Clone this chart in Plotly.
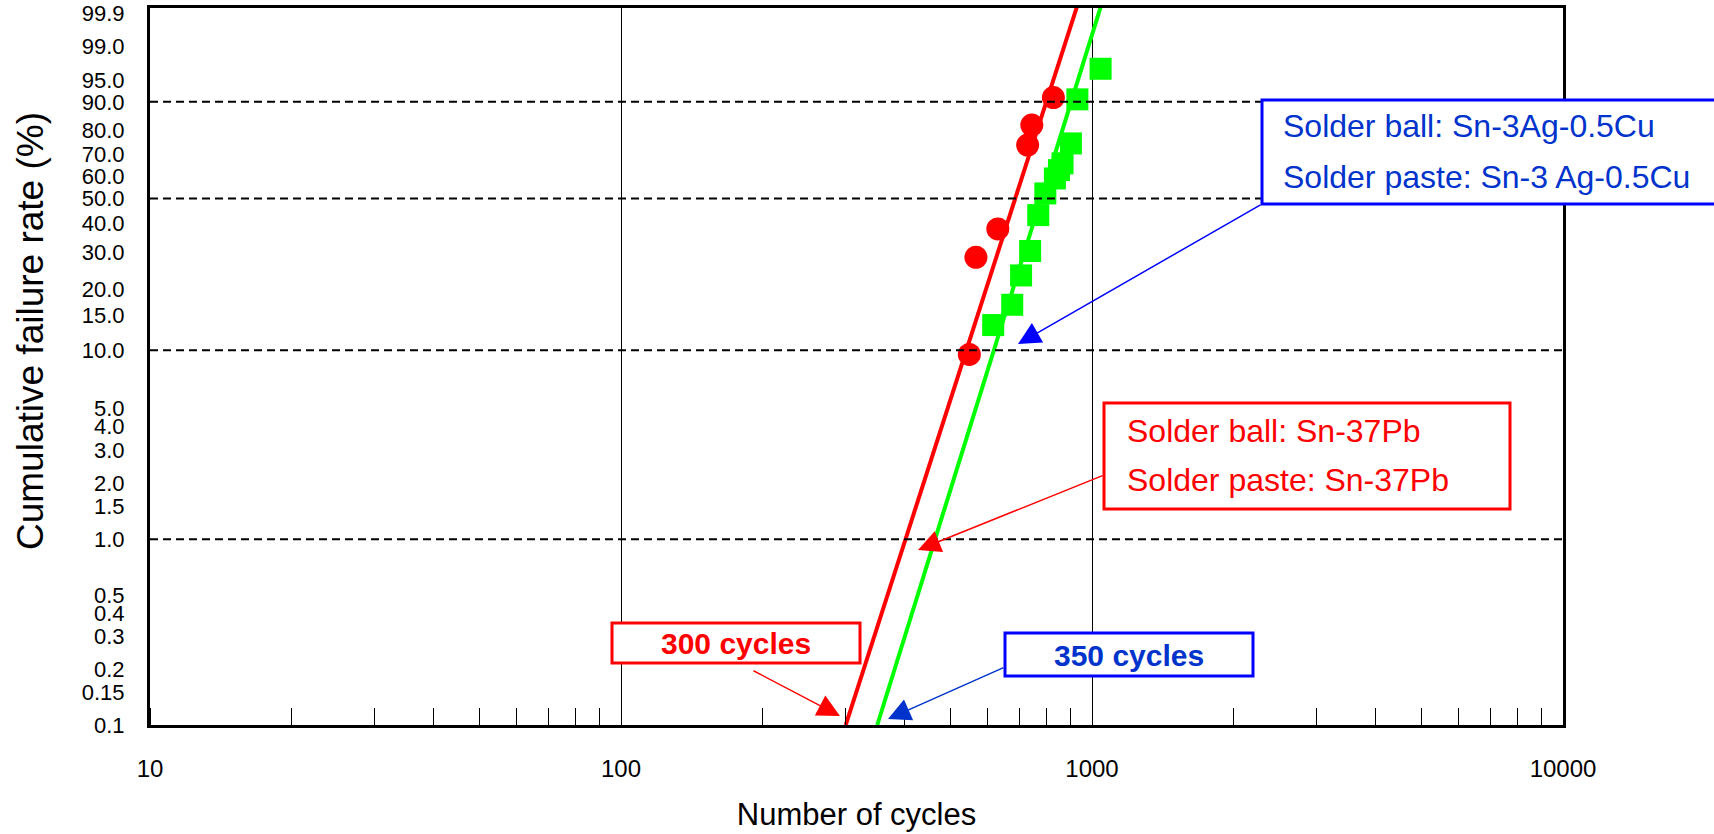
import numpy as np
import plotly.graph_objects as go

# ── Data ──────────────────────────────────────────────────────────────────────
# Sn-37Pb (red circles)
pb_cycles = [549, 567, 631, 730, 745, 828]
pb_rate = [9.5, 28.4, 37.8, 74.0, 82.2, 91.2]

# Sn-3Ag-0.5Cu (green squares)
sac_cycles = [617, 677, 707, 739, 769, 796, 834, 851, 866, 902, 931, 1043]
sac_rate = [13.4, 16.9, 23.4, 30.3, 43.1, 52.2, 58.9, 62.7, 65.8, 74.7, 90.7, 96.9]

# Weibull fit lines (end points)
pb_fit_cycles = [300, 934]
pb_fit_rate = [0.1, 99.96]
sac_fit_cycles = [350, 1049]
sac_fit_rate = [0.1, 99.96]

x_tick_vals = [10, 100, 1000, 10000]
y_tick_rates = [0.1, 0.15, 0.2, 0.3, 0.4, 0.5, 1.0, 1.5, 2.0, 3.0, 4.0, 5.0,
                10.0, 15.0, 20.0, 30.0, 40.0, 50.0, 60.0, 70.0, 80.0, 90.0,
                95.0, 99.0, 99.9]
y_tick_text = ["0.1", "0.15", "0.2", "0.3", "0.4", "0.5", "1.0", "1.5", "2.0",
               "3.0", "4.0", "5.0", "10.0", "15.0", "20.0", "30.0", "40.0",
               "50.0", "60.0", "70.0", "80.0", "90.0", "95.0", "99.0", "99.9"]
grid_rates = [1.0, 10.0, 50.0, 90.0]

# ── Style ─────────────────────────────────────────────────────────────────────
RED = "#FF0000"
GREEN = "#00FF00"
BLUE = "#0000FF"
DARK_BLUE = "#0033CC"
FONT = "Liberation Sans, Arial, sans-serif"

# plot area in pixels (figure is 1714 x 834)
PLOT_L, PLOT_T, PLOT_W, PLOT_H = 150, 8, 1413, 717


def weibull(rate_pct):
    """Cumulative failure rate (%) -> Weibull probability scale ln(-ln(1-F))."""
    p = np.asarray(rate_pct, dtype=float) / 100.0
    return np.log(-np.log(1.0 - p))


def paper(px, py):
    """Pixel position in the figure -> paper coordinates."""
    return (px - PLOT_L) / PLOT_W, (PLOT_T + PLOT_H - py) / PLOT_H


fig = go.Figure()

# ── Fit lines ─────────────────────────────────────────────────────────────────
fig.add_trace(go.Scatter(
    x=pb_fit_cycles, y=weibull(pb_fit_rate), mode="lines",
    line=dict(color=RED, width=4), hoverinfo="skip", showlegend=False,
))
fig.add_trace(go.Scatter(
    x=sac_fit_cycles, y=weibull(sac_fit_rate), mode="lines",
    line=dict(color=GREEN, width=4), hoverinfo="skip", showlegend=False,
))

# ── Measured points ───────────────────────────────────────────────────────────
fig.add_trace(go.Scatter(
    x=pb_cycles, y=weibull(pb_rate), mode="markers",
    marker=dict(symbol="circle", size=23, color=RED, line=dict(width=0)),
    name="Sn-37Pb", showlegend=False,
))
fig.add_trace(go.Scatter(
    x=sac_cycles, y=weibull(sac_rate), mode="markers",
    marker=dict(symbol="square", size=22, color=GREEN, line=dict(width=0)),
    name="Sn-3Ag-0.5Cu", showlegend=False,
))

# ── Dashed reference lines ────────────────────────────────────────────────────
for r in grid_rates:
    fig.add_hline(y=float(weibull(r)), line_dash="8px,5px", line_color="black",
                  line_width=2)

# ── Label boxes ───────────────────────────────────────────────────────────────
def add_box(px0, py0, px1, py1, color):
    x0, y1 = paper(px0, py0)
    x1, y0 = paper(px1, py1)
    fig.add_shape(type="rect", xref="paper", yref="paper",
                  x0=x0, y0=y0, x1=x1, y1=y1,
                  line=dict(color=color, width=3), fillcolor="white")


def add_text(px, py, text, color, size=32, bold=False, anchor="left", angle=0):
    x, y = paper(px, py)
    if bold:
        text = f"<b>{text}</b>"
    fig.add_annotation(xref="paper", yref="paper", x=x, y=y, text=text,
                       showarrow=False, xanchor=anchor, yanchor="middle",
                       textangle=angle,
                       font=dict(size=size, color=color, family=FONT))


def add_arrow(tail, tip, color):
    x, y = paper(*tip)
    fig.add_annotation(xref="paper", yref="paper", x=x, y=y, text="",
                       axref="pixel", ayref="pixel",
                       ax=tail[0] - tip[0], ay=tail[1] - tip[1],
                       showarrow=True, arrowhead=2, arrowsize=3,
                       arrowwidth=1.5, arrowcolor=color)


# Sn-3Ag-0.5Cu legend box (runs off the right edge)
add_box(1262, 100, 1740, 204, BLUE)
add_text(1281, 126, "Solder ball: Sn-3Ag-0.5Cu", DARK_BLUE)
add_text(1281, 177, "Solder paste: Sn-3 Ag-0.5Cu", DARK_BLUE)
add_arrow((1262, 204), (1018, 344), BLUE)

# Sn-37Pb legend box
add_box(1104, 403, 1510, 509, RED)
add_text(1125, 431, "Solder ball: Sn-37Pb", RED)
add_text(1125, 480, "Solder paste: Sn-37Pb", RED)
add_arrow((1104, 475), (918, 550), RED)

# B0.1 life boxes
add_box(612, 623, 860, 663, RED)
add_text(736, 643, "300 cycles", RED, size=30, bold=True, anchor="center")
add_arrow((752, 670), (840, 716), RED)

add_box(1005, 633, 1253, 676, BLUE)
add_text(1129, 655, "350 cycles", DARK_BLUE, size=30, bold=True, anchor="center")
add_arrow((1005, 667), (888, 719), DARK_BLUE)

# y-axis title, placed like the reference (above the axis centre)
add_text(30, 331, "Cumulative failure rate (%)", "black", size=37,
         anchor="center", angle=-90)

# ── Layout ────────────────────────────────────────────────────────────────────
fig.update_layout(
    width=1714,
    height=834,
    margin=dict(l=PLOT_L, r=1714 - PLOT_L - PLOT_W, t=PLOT_T,
                b=834 - PLOT_T - PLOT_H, autoexpand=False),
    paper_bgcolor="white",
    plot_bgcolor="white",
    font=dict(family=FONT, color="black", size=24),
    showlegend=False,
    xaxis=dict(
        type="log",
        range=[1, 4],
        automargin=False,
        tickvals=x_tick_vals,
        ticktext=[str(v) for v in x_tick_vals],
        ticks="",
        ticklabelstandoff=20,
        tickfont=dict(size=24),
        showgrid=True, gridcolor="black", gridwidth=1,
        zeroline=False,
        showline=True, linecolor="black", linewidth=3, mirror=True,
        minor=dict(ticks="inside", ticklen=17, tickwidth=1,
                   tickcolor="black", dtick="D1", showgrid=False),
        title=dict(text="Number of cycles", font=dict(size=31), standoff=23),
    ),
    yaxis=dict(
        range=[float(weibull(0.1)), 2.0],
        automargin=False,
        tickvals=weibull(y_tick_rates),
        ticktext=y_tick_text,
        ticks="",
        ticklabelstandoff=18,
        tickfont=dict(size=22),
        showgrid=False,
        zeroline=False,
        showline=True, linecolor="black", linewidth=3, mirror=True,
    ),
)

# drop the default 8px page margin so the figure fills the window exactly
fig.write_html("out.html", config={"displayModeBar": False},
               post_script="document.body.style.margin = '0';")
